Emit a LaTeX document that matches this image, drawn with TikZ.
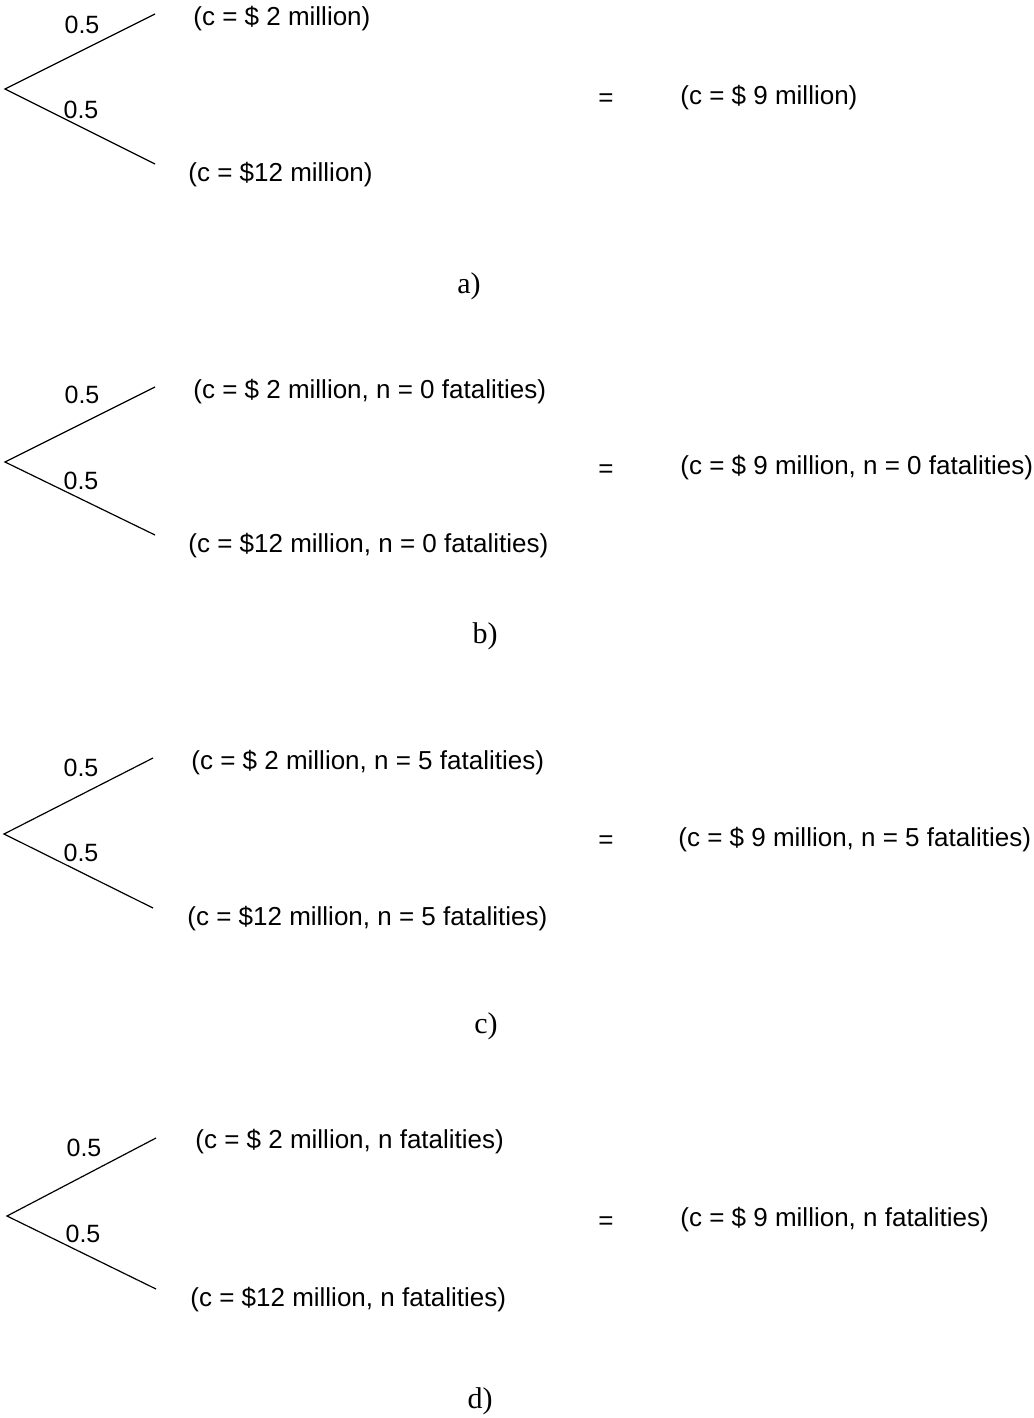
\documentclass[tikz,border=0pt]{standalone}
\usepackage{fontspec}
\setmainfont{Liberation Serif}
\setsansfont{Liberation Sans}

\begin{document}
\begin{tikzpicture}[x=0.5pt, y=-0.5pt,
  branch/.style={line width=0.6pt, black},
  prob/.style={font=\sffamily\fontsize{12.5}{15}\selectfont, inner sep=0pt},
  outcome/.style={font=\sffamily\fontsize{13}{16}\selectfont, anchor=west, inner sep=0pt},
  equiv/.style={font=\sffamily\fontsize{13}{16}\selectfont, inner sep=0pt},
  panel/.style={font=\fontsize{15}{18}\selectfont, inner sep=0pt}]
  \useasboundingbox (0,0) rectangle (1033,1418);

  \coordinate (rootA) at (5,89);
  \coordinate (hiA) at (155,14);
  \coordinate (loA) at (155,164);
  \draw[branch] (hiA) -- (rootA) -- (loA);
  \node[prob] (pHiA) at (82,25) {0.5};
  \node[prob] (pLoA) at (81,110) {0.5};
  \node[outcome] (oHiA) at (193,19) {(c = \$ 2 million)};
  \node[outcome] (oLoA) at (188,175) {(c = \$12 million)};
  \node[equiv] (eqA) at (606,100) {=};
  \node[outcome] (ceA) at (680,98) {(c = \$ 9 million)};
  \node[panel] (capA) at (469,286) {a)};

  \coordinate (rootB) at (5,462);
  \coordinate (hiB) at (155,387);
  \coordinate (loB) at (155,535);
  \draw[branch] (hiB) -- (rootB) -- (loB);
  \node[prob] (pHiB) at (82,395) {0.5};
  \node[prob] (pLoB) at (81,481) {0.5};
  \node[outcome] (oHiB) at (193,392) {(c = \$ 2 million, n = 0 fatalities)};
  \node[outcome] (oLoB) at (188,546) {(c = \$12 million, n = 0 fatalities)};
  \node[equiv] (eqB) at (606,471) {=};
  \node[outcome] (ceB) at (680,468) {(c = \$ 9 million, n = 0 fatalities)};
  \node[panel] (capB) at (485,636) {b)};

  \coordinate (rootC) at (4,834);
  \coordinate (hiC) at (153,758);
  \coordinate (loC) at (153,908);
  \draw[branch] (hiC) -- (rootC) -- (loC);
  \node[prob] (pHiC) at (81,768) {0.5};
  \node[prob] (pLoC) at (81,853) {0.5};
  \node[outcome] (oHiC) at (191,763) {(c = \$ 2 million, n = 5 fatalities)};
  \node[outcome] (oLoC) at (187,919) {(c = \$12 million, n = 5 fatalities)};
  \node[equiv] (eqC) at (606,842) {=};
  \node[outcome] (ceC) at (678,840) {(c = \$ 9 million, n = 5 fatalities)};
  \node[panel] (capC) at (486,1026) {c)};

  \coordinate (rootD) at (7,1216);
  \coordinate (hiD) at (156,1138);
  \coordinate (loD) at (156,1289);
  \draw[branch] (hiD) -- (rootD) -- (loD);
  \node[prob] (pHiD) at (84,1148) {0.5};
  \node[prob] (pLoD) at (83,1234) {0.5};
  \node[outcome] (oHiD) at (195,1142) {(c = \$ 2 million, n fatalities)};
  \node[outcome] (oLoD) at (190,1300) {(c = \$12 million, n fatalities)};
  \node[equiv] (eqD) at (606,1223) {=};
  \node[outcome] (ceD) at (680,1220) {(c = \$ 9 million, n fatalities)};
  \node[panel] (capD) at (480,1401) {d)};
\end{tikzpicture}
\end{document}
